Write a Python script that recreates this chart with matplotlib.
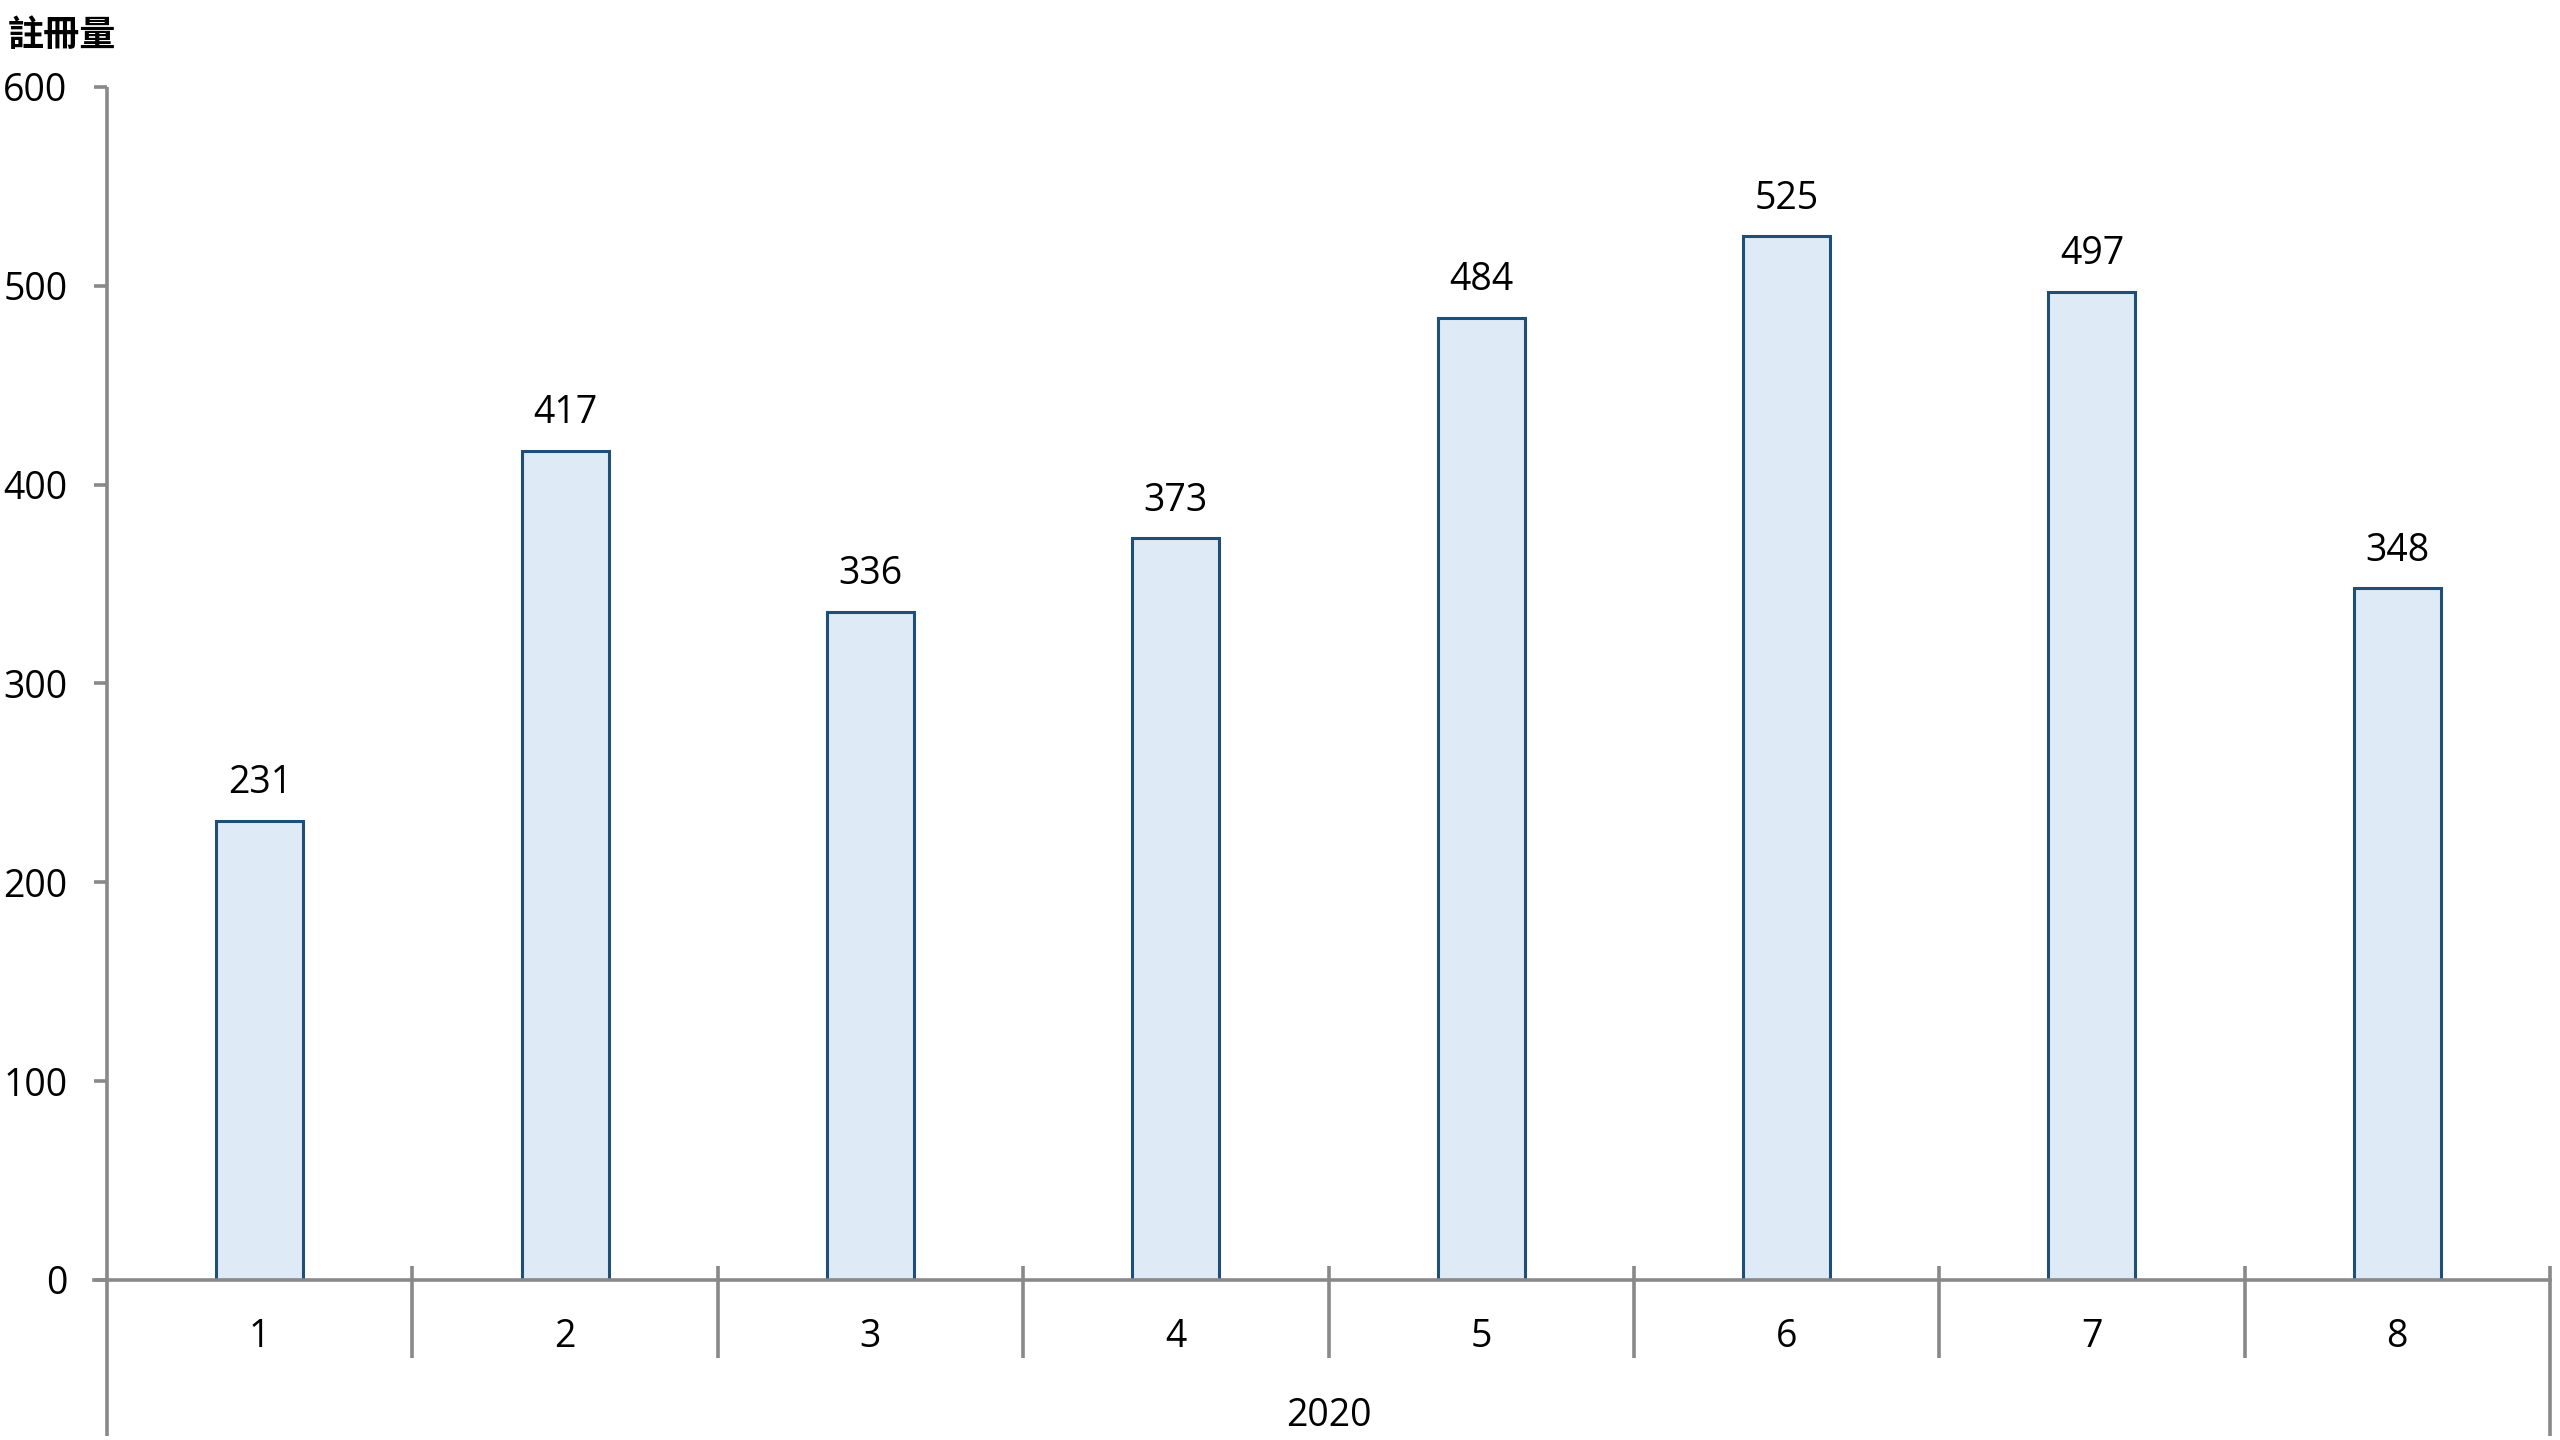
import matplotlib
matplotlib.use("Agg")
import matplotlib.pyplot as plt
from matplotlib.transforms import blended_transform_factory

plt.rcParams['font.family'] = ['Open Sans', 'Noto Sans CJK TC', 'DejaVu Sans']

# Data
months = ["1", "2", "3", "4", "5", "6", "7", "8"]
values = [231, 417, 336, 373, 484, 525, 497, 348]
year_label = "2020"
y_ticks = [0, 100, 200, 300, 400, 500, 600]
y_title = "註冊量"

W, H = 2560, 1440
fig = plt.figure(figsize=(25.6, 14.4), dpi=100)
left_px, right_px, zero_px, top_px = 107, 2550, 1280, 87
ax = fig.add_axes([left_px / W, (H - zero_px) / H, (right_px - left_px) / W, (zero_px - top_px) / H])

x = list(range(len(months)))
bars = ax.bar(x, values, width=0.285, color="#DEEAF6", edgecolor="#1F4E79", linewidth=2.2, zorder=2)
ax.set_xlim(-0.5, len(months) - 0.5)
ax.set_ylim(0, 600)

for s in ax.spines.values():
    s.set_visible(False)

axis_color = "#898989"
lw = 2.6
ax.set_yticks(y_ticks)
ax.set_yticklabels([str(t) for t in y_ticks])
ax.tick_params(axis='y', length=9.5, width=lw, color=axis_color, pad=19, labelsize=27, labelcolor="black")
ax.set_xticks([])

# px to axes fraction (vertical)
ax_h = zero_px - top_px
def fy(px):
    return (zero_px - px) / ax_h

tr = blended_transform_factory(ax.transData, ax.transAxes)
# left spine (extends below)
ax.plot([0, 0], [fy(1436), 1.0], transform=ax.transAxes, color=axis_color, lw=lw, clip_on=False, solid_capstyle='butt')
# zero line
ax.axhline(0, xmin=-13 / (right_px - left_px), xmax=1.0, color=axis_color, lw=lw, clip_on=False, zorder=3)
# category separators
for b in range(1, len(months)):
    ax.plot([b - 0.5, b - 0.5], [fy(1358), fy(1266)], transform=tr, color=axis_color, lw=lw, clip_on=False, solid_capstyle='butt')
ax.plot([len(months) - 0.5] * 2, [fy(1436), fy(1266)], transform=tr, color=axis_color, lw=lw, clip_on=False, solid_capstyle='butt')

# category labels
for xi, m in zip(x, months):
    ax.text(xi, fy(1337), m, transform=tr, ha='center', va='center', fontsize=27)
ax.text((len(months) - 1) / 2, fy(1416), year_label, transform=tr, ha='center', va='center', fontsize=27)

# value labels
for xi, v in zip(x, values):
    ax.annotate(str(v), (xi, v), xytext=(0, 27), textcoords='offset points', ha='center', va='center', fontsize=27)

fig.text(8 / W, 1 - 37 / H, y_title, ha='left', va='center', fontsize=26, fontweight='bold')

fig.savefig("out.png", dpi=100, facecolor="white")
